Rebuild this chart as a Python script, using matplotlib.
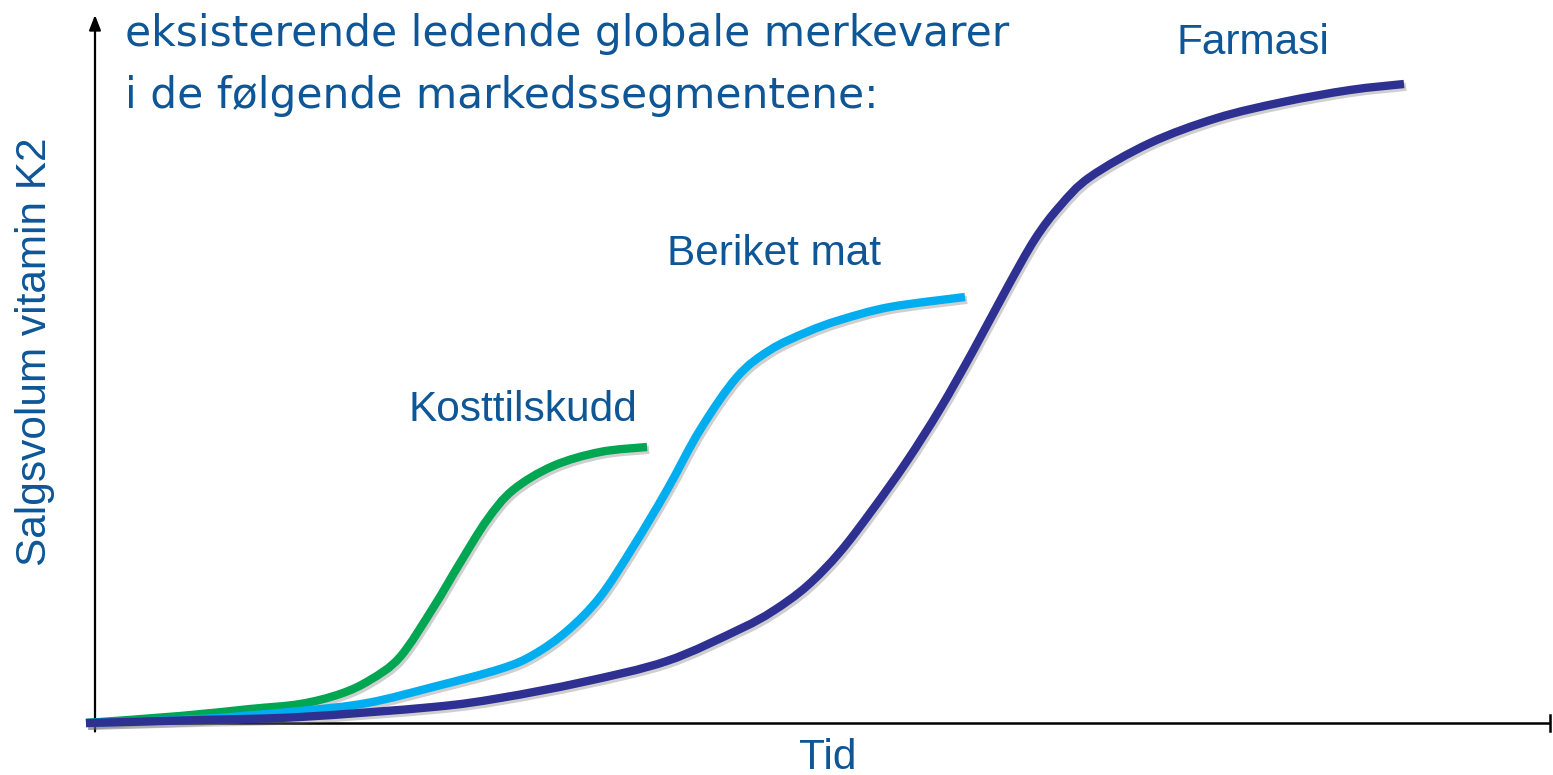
import matplotlib
matplotlib.use("Agg")
import matplotlib.pyplot as plt
import matplotlib.transforms as mtransforms
from matplotlib.path import Path
from matplotlib.patches import PathPatch

# Data (time units along x, sales volume along y)
kost_x = [-9, 85, 155, 205, 245, 275, 305, 338, 365, 392, 418, 458, 505, 552]
kost_y = [0, 7, 14, 19, 29, 43, 66, 115, 160, 203, 233, 257, 271, 276]

beriket_x = [-9, 105, 205, 272, 338, 405, 438, 472, 505, 538, 572, 605, 642, 675, 712, 745, 795, 870]
beriket_y = [0, 4, 12, 20, 36, 54, 68, 92, 126, 176, 233, 293, 346, 373, 391, 403, 416, 426]

farmasi_x = [-9, 105, 205, 338, 405, 488, 572, 645, 678, 712, 745, 778, 812, 845, 878, 912,
             940, 965, 995, 1055, 1122, 1188, 1255, 1309]
farmasi_y = [0, 3, 6, 16, 25, 41, 62, 94, 112, 137, 171, 214, 262, 314, 372, 435,
             484, 517, 546, 580, 605, 621, 633, 639]

series = [
    ("Kosttilskudd", kost_x, kost_y, "#00A651"),
    ("Beriket mat", beriket_x, beriket_y, "#00AEEF"),
    ("Farmasi", farmasi_x, farmasi_y, "#2E3192"),
]

title_lines = ["eksisterende ledende globale merkevarer", "i de følgende markedssegmentene:"]
x_label = "Tid"
y_label = "Salgsvolum vitamin K2"
text_color = "#0E5696"


def smooth_path(xs, ys):
    """Catmull-Rom through the data points, expressed as cubic Bezier segments."""
    pts = list(zip(xs, ys))
    verts = [pts[0]]
    codes = [Path.MOVETO]
    n = len(pts)
    for i in range(n - 1):
        p0 = pts[i - 1] if i > 0 else pts[i]
        p1 = pts[i]
        p2 = pts[i + 1]
        p3 = pts[i + 2] if i + 2 < n else pts[i + 1]
        c1 = (p1[0] + (p2[0] - p0[0]) / 6.0, p1[1] + (p2[1] - p0[1]) / 6.0)
        c2 = (p2[0] - (p3[0] - p1[0]) / 6.0, p2[1] - (p3[1] - p1[1]) / 6.0)
        verts += [c1, c2, p2]
        codes += [Path.CURVE4] * 3
    return Path(verts, codes)


W, H = 1553, 775
fig = plt.figure(figsize=(W / 100, H / 100), dpi=100)
ax = fig.add_axes([95 / W, (H - 723) / H, (1550 - 95) / W, (723 - 15) / H])
ax.set_xlim(0, 1455)
ax.set_ylim(0, 708)
ax.axis("off")

# axes lines
ax.annotate("", xy=(0, 1.0), xytext=(0, -0.012), xycoords="axes fraction",
            arrowprops=dict(arrowstyle="-|>,head_length=0.9,head_width=0.35", color="black", lw=1.6,
                            shrinkA=0, shrinkB=0), annotation_clip=False)
ax.plot([-0.004, 1.0], [0, 0], transform=ax.transAxes, color="black", lw=1.8, clip_on=False,
        solid_capstyle="butt")
ax.plot([1.0, 1.0], [-0.011, 0.011], transform=ax.transAxes, color="black", lw=1.8, clip_on=False)

shadow_offset = mtransforms.ScaledTranslation(1.5 / 72, -2.0 / 72, fig.dpi_scale_trans)
for z, (name, xs, ys, col) in enumerate(series):
    path = smooth_path(xs, ys)
    shadow_patch = PathPatch(path, facecolor="none", edgecolor="#777777", lw=6.0,
                             alpha=0.35, capstyle="butt", clip_on=False, zorder=2.5 + z)
    shadow_patch.set_transform(ax.transData + shadow_offset)
    ax.add_patch(shadow_patch)
    patch = PathPatch(path, facecolor="none", edgecolor=col, lw=6.0,
                      capstyle="butt", joinstyle="round", clip_on=False, zorder=3 + z)
    ax.add_patch(patch)

# curve labels
lab_kw = dict(fontsize=30.5, color=text_color, family="Liberation Sans", ha="left", va="center")
ax.text(1082, 680, "Farmasi", **lab_kw)
ax.text(572, 469, "Beriket mat", **lab_kw)
ax.text(314, 313, "Kosttilskudd", **lab_kw)

# title lines
fig.text(125 / W, 1 - 46 / H, title_lines[0], fontsize=30.5, color=text_color,
         family="DejaVu Sans", ha="left", va="baseline")
fig.text(125 / W, 1 - 108 / H, title_lines[1], fontsize=30.5, color=text_color,
         family="DejaVu Sans", ha="left", va="baseline")

# axis labels
fig.text(828 / W, 1 - 758 / H, x_label, fontsize=30.5, color=text_color, family="Liberation Sans",
         ha="center", va="center")
fig.text(35 / W, 1 - 352 / H, y_label, fontsize=30.5, color=text_color, family="Liberation Sans",
         ha="center", va="center", rotation=90)

fig.savefig("out.png", dpi=100)
